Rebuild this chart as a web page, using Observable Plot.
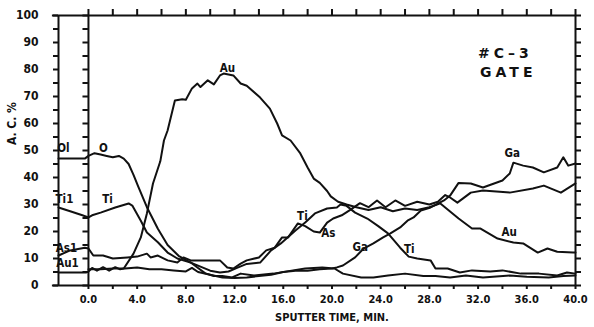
<!DOCTYPE html>
<html>
<head>
<meta charset="utf-8">
<script src="https://cdn.jsdelivr.net/npm/d3@7"></script>
<script src="https://cdn.jsdelivr.net/npm/@observablehq/plot@0.6"></script>
<style>
  body { margin: 0; background: #fff; }
  svg text { font-stretch: condensed; }
</style>
</head>
<body>
<div id="chart"></div>
<script>
// Auger depth profile, sample #C-3 (gate): atomic % vs sputter time (min).
// Times below 0 are the pre-sputter surface readings.
const T_START = -2.46;
const T_END = 40;

const oxygen = [[-2.46,47],[-1.5,47],[-0.3,47],[0,48],[0.5,49],[1,48.5],[1.5,48],[2,47.5],[2.5,48],[2.9,47],[3.3,45],[3.7,41],[4.1,36.5],[4.8,29],[5.7,21],[6.5,15],[7.4,11],[8.4,8.5],[9,6.5],[9.6,4.5],[10.3,3.5],[11,3.5],[11.8,3],[12.5,4.4],[13.6,3.7],[15.2,4.4],[16.8,5.6],[17.8,6.3],[19.2,6.7],[20.2,6.3],[20.9,4.4],[22.4,3],[23.4,3],[24.6,3.7],[26,4.4],[27.5,3.5],[28.5,3.5],[29.7,3],[31,3.7],[32.4,3],[34.6,3.7],[36,3.2],[37.8,3],[39,3.5],[40,3.7]];

const titanium = [[-2.46,28.9],[-1.5,27.5],[-0.5,26],[0,25.2],[0.3,26],[1,27],[2.2,28.9],[3.3,30.4],[3.6,29.6],[4.3,24],[4.8,19.6],[5.7,16],[6.5,12.2],[7.3,10],[8.4,8.5],[9.2,7],[10,5.5],[10.8,4.8],[11.5,5.2],[12.2,6.5],[13,8],[14.1,8.5],[15,13],[15.8,15.6],[17,20.4],[17.8,23.3],[18.6,26.7],[19.6,28.5],[20.4,28.9],[20.7,30],[21.2,29.5],[21.9,27],[22.9,24.8],[23.8,22],[24.6,19.3],[25.6,14],[26.3,10.7],[27,10],[28.1,9.3],[28.5,6.3],[29.5,6.3],[30.5,4.8],[31.5,5.6],[33,5.2],[34,5.6],[35.5,4.4],[37,4.4],[38.5,3.7],[39.3,4.8],[40,4.4]];

const arsenic = [[-2.46,11.1],[-1.5,13],[-0.3,14],[0,13.7],[0.4,11.1],[1.2,11.1],[2,10],[3.2,10.4],[4,10.7],[4.8,11.8],[5.1,10.4],[5.7,11.1],[6.5,9.3],[7.3,8.5],[7.8,10.4],[8.4,9.3],[9.2,9.3],[10.8,9.3],[11.4,6.7],[11.9,6.3],[12.5,8.1],[13,9.3],[14,10.4],[14.6,13],[15.3,14],[15.9,17.8],[16.4,17.8],[17.2,23],[17.8,22],[18.5,20],[19,19.6],[19.6,23.3],[20.1,24.8],[20.8,26],[21.5,28],[22.3,30.5],[23,29],[23.7,31.5],[24.4,29],[25.2,31.5],[26,29.5],[27,31],[28,30],[28.7,31],[29.3,33.5],[29.7,32.6],[30.3,30.7],[31.4,34.4],[32.4,35.2],[34.6,34.4],[36.5,35.9],[37.4,37],[38.8,34.4],[40,37.8]];

const gold = [[-2.46,4.8],[-0.2,4.8],[0,5.2],[0.3,6.5],[0.7,5.5],[1.2,6.8],[1.7,5.5],[2.2,6.8],[2.6,6],[2.9,6.3],[3.7,11.8],[4.3,17.8],[4.8,26.7],[5.3,37.8],[5.9,46],[6.2,53.7],[6.5,57.4],[7.1,68.5],[7.7,69],[8,68.8],[8.5,73],[8.95,74.8],[9.2,73.5],[9.8,76],[10.3,74.5],[10.8,77.8],[11.1,78.5],[11.9,77.8],[12.5,74.8],[13,74],[14.1,69.6],[14.9,65.5],[15.5,60],[15.9,55.6],[16.6,53.7],[17.4,48.9],[18,43.7],[18.5,39.6],[19,38],[19.6,35],[19.9,33],[20.5,31],[21.2,30],[22,29],[23,28],[24,29],[25,27.5],[26,28.5],[27,28],[28,29],[28.9,30.4],[30.4,24.8],[31.5,21.1],[32.2,21.1],[33.6,17.4],[34.9,15.9],[35.7,15.6],[36.9,12.2],[37.7,13.7],[38.5,12.5],[39.8,12.2],[40,12.2]];

const gallium = [[0,6],[1,6],[2,6.3],[3,6.3],[4,6.7],[5,6],[6,6],[7,5.6],[8,5.2],[8.5,6.5],[9,5],[10,4],[11,3],[12,2.8],[13,3],[14,3.5],[15,4],[16,5],[17,5.5],[18,5.5],[19,6],[20,6.3],[20.4,6.7],[20.9,7.4],[21.9,10.4],[22.6,13.7],[23.4,15.6],[24.2,17.8],[24.8,19.3],[25.6,21.5],[26.2,24],[26.7,25.2],[27.3,27.8],[28.1,28.9],[29.2,31.5],[29.7,33.3],[30.4,38],[31.4,37.8],[32.4,36.3],[34,38.9],[34.6,41.5],[34.9,45.5],[35.7,44.4],[36.5,43.7],[37.4,41.9],[38.5,43.7],[39,47.5],[39.4,44.4],[40,45.2]];

const series = [oxygen, titanium, arsenic, gold, gallium];

// Element labels written beside the traces: [text, time, percent]
const traceLabels = [
  ["Ol", -2.05, 50.7], ["O", 1.23, 50.7],
  ["Ti1", -1.97, 31.9], ["Ti", 1.56, 31.9],
  ["As1", -1.8, 13.7], ["Au1", -1.72, 8.1],
  ["Au", 11.41, 80.4], ["Ti", 17.57, 25.6], ["As", 19.7, 19.3],
  ["Ga", 22.33, 14.1], ["Ti", 26.35, 13.3],
  ["Au", 34.56, 19.6], ["Ga", 34.8, 48.9]
];

const sampleTitle = [["#C\u20133", 34.24, 85.9], ["GATE", 34.48, 78.9]];

const yMinorTicks = d3.range(0, 101, 5);
const xTicks = d3.range(0, 41, 2);
const xLabel = "SPUTTER TIME, MIN.";
const yLabel = "A. C. %";

const ink = "#111";
const fontMain = "'DejaVu Sans Condensed', 'DejaVu Sans', sans-serif";

const chart = Plot.plot({
  width: 594,
  height: 327,
  marginLeft: 58,
  marginRight: 19,
  marginTop: 15,
  marginBottom: 42,
  x: {domain: [T_START, T_END], label: null},
  y: {domain: [0, 100], label: null},
  style: {fontFamily: fontMain, fontWeight: "bold", background: "#fff", color: ink},
  marks: [
    // frame: left edge, sputter start, right edge; top and bottom
    Plot.ruleX([T_START, 0, T_END], {y1: 0, y2: 100, stroke: ink, strokeWidth: 2}),
    Plot.ruleY([0, 100], {x1: T_START - 0.5, x2: T_END, stroke: ink, strokeWidth: 2}),
    // left axis with labels every 10 %
    Plot.axisY({
      anchor: "left", ticks: yMinorTicks, tickSize: 5, tickPadding: 15,
      tickFormat: d => d % 10 ? "" : String(d), fontSize: 12, strokeWidth: 2
    }),
    // inner ticks at sputter start
    Plot.ruleY(yMinorTicks, {x1: -0.45, x2: 0, stroke: ink, strokeWidth: 2}),
    // right axis ticks
    Plot.axisY({anchor: "right", ticks: yMinorTicks, tickSize: 5, tickFormat: () => "", strokeWidth: 2}),
    // top ticks
    Plot.axisX({anchor: "top", ticks: xTicks, tickSize: 7, tickFormat: () => "", strokeWidth: 2}),
    // bottom ticks and time labels
    Plot.axisX({
      anchor: "bottom", ticks: xTicks, tickSize: 4, tickPadding: 6,
      tickFormat: d => d % 4 ? "" : d.toFixed(1), fontSize: 11, strokeWidth: 2
    }),
    Plot.text([xLabel], {x: 20, frameAnchor: "bottom", dy: 35, fontSize: 11, fill: ink}),
    Plot.text([yLabel], {y: 52, frameAnchor: "left", dx: -46, rotate: -90, fontSize: 12, fill: ink, style: "letter-spacing:3px"}),
    // concentration traces
    ...series.map(s => Plot.line(s, {x: d => d[0], y: d => d[1], stroke: ink, strokeWidth: 2, strokeLinejoin: "round"})),
    // trace labels
    Plot.text(traceLabels, {x: d => d[1], y: d => d[2], text: d => d[0], fontSize: 11.5, fill: ink}),
    // sample name
    Plot.text(sampleTitle, {
      x: d => d[1], y: d => d[2], text: d => d[0],
      fontSize: 14, fill: ink, fontFamily: "'DejaVu Sans', sans-serif"
    })
  ]
});

// wide spacing on the sample name
d3.select(chart).selectAll("text").filter(function() {
  return this.textContent === "GATE" || this.textContent === "#C\u20133";
}).style("letter-spacing", "4px").style("font-stretch", "normal");

document.getElementById("chart").appendChild(chart);
</script>
</body>
</html>
